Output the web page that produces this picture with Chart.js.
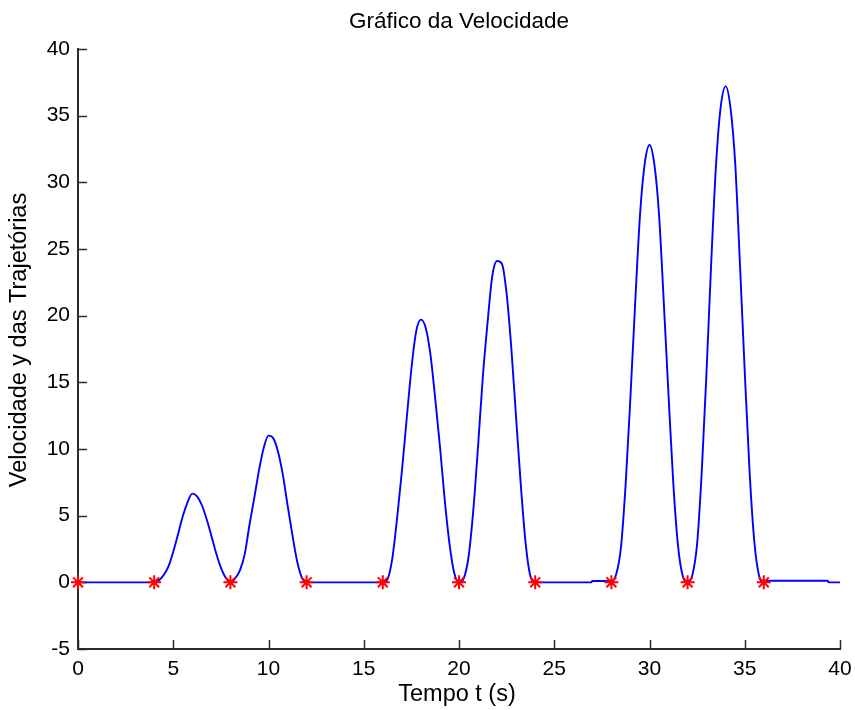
<!DOCTYPE html>
<html lang="pt">
<head>
<meta charset="utf-8">
<title>Gráfico da Velocidade</title>
<script src="https://cdn.jsdelivr.net/npm/chart.js@4"></script>
<style>
  html, body { margin: 0; padding: 0; background: #fff; }
  canvas { display: block; }
</style>
</head>
<body>
<canvas id="grafico" width="855" height="710"></canvas>
<script>
// tempo (s) e velocidade
const tempo = [
  0, 4,
  4.25, 4.5, 4.75, 5, 5.25, 5.5, 5.75, 6, 6.25, 6.5, 6.75, 7, 7.25, 7.5, 7.75, 8,
  8.25, 8.5, 8.75, 9, 9.25, 9.5, 9.75, 10, 10.25, 10.5, 10.75, 11, 11.25, 11.5, 11.75, 12,
  16,
  16.25, 16.5, 16.75, 17, 17.25, 17.5, 17.75, 18, 18.25, 18.5, 18.75, 19, 19.25, 19.5, 19.75, 20,
  20.25, 20.5, 20.75, 21, 21.25, 21.5, 21.75, 22, 22.25, 22.5, 22.75, 23, 23.25, 23.5, 23.75, 24,
  26.95, 27, 28,
  28.25, 28.5, 28.75, 29, 29.25, 29.5, 29.75, 30, 30.25, 30.5, 30.75, 31, 31.25, 31.5, 31.75, 32,
  32.25, 32.5, 32.75, 33, 33.25, 33.5, 33.75, 34, 34.25, 34.5, 34.75, 35, 35.25, 35.5, 35.75, 36,
  36.25, 39.35, 39.4, 40
];
const velocidade = [
  0, 0,
  0.15, 0.55, 1.2, 2.3, 3.6, 4.95, 6.0, 6.65, 6.45, 5.8, 4.75, 3.5, 2.2, 1.1, 0.35, 0,
  0.3, 0.9, 2.1, 4.3, 6.3, 8.4, 10.1, 11.0, 10.8, 9.8, 8.1, 5.8, 3.6, 1.6, 0.35, 0,
  0,
  0.25, 1.8, 4.8, 8.3, 12.2, 16.0, 18.8, 19.7, 19.1, 17.1, 13.8, 10.2, 6.2, 2.9, 0.7, 0,
  0.3, 1.9, 5.4, 10.2, 15.4, 19.5, 23.0, 24.1, 23.9, 21.65, 17.5, 12.3, 7.2, 2.9, 0.45, 0,
  0, 0.1, 0.1,
  0.6, 2.6, 7.4, 13.9, 21.0, 27.5, 31.4, 32.8, 31.4, 27.6, 21.0, 14.0, 7.4, 2.7, 0.45, 0,
  0.55, 2.9, 8.5, 16.0, 24.3, 31.5, 35.8, 37.2, 35.6, 31.4, 23.8, 15.8, 8.4, 3.1, 0.5, 0,
  0.12, 0.12, 0, 0
];

// instantes marcados com asterisco
const trocas = [0, 4, 8, 12, 16, 20, 24, 28, 32, 36];
const trocasVel = [0, 0, 0, 0, 0, 0, 0, 0, 0, 0];

const ticksX = [0, 5, 10, 15, 20, 25, 30, 35, 40];
const ticksY = [-5, 0, 5, 10, 15, 20, 25, 30, 35, 40];

const titulo = 'Gráfico da Velocidade';
const rotuloX = 'Tempo t (s)';
const rotuloY = 'Velocidade y das Trajetórias';

const fonte = "'Liberation Sans', Arial, sans-serif";
const corEixo = '#2b2b2b';

// ticks para dentro, estilo matlab
const ticksDentro = {
  id: 'ticksDentro',
  beforeDatasetsDraw(chart) {
    const { ctx, chartArea, scales: { x, y } } = chart;
    ctx.save();
    ctx.strokeStyle = corEixo;
    ctx.lineWidth = 1.5;
    ctx.beginPath();
    x.ticks.forEach(t => {
      const px = Math.round(x.getPixelForValue(t.value)) + 0.5;
      ctx.moveTo(px, chartArea.bottom);
      ctx.lineTo(px, chartArea.bottom - 9);
    });
    y.ticks.forEach(t => {
      const py = Math.round(y.getPixelForValue(t.value)) + 0.5;
      ctx.moveTo(chartArea.left, py);
      ctx.lineTo(chartArea.left + 9, py);
    });
    ctx.stroke();
    ctx.restore();
  }
};

// titulo e rotulos centrados no eixo, como no matlab
const textos = {
  id: 'textos',
  afterDraw(chart) {
    const { ctx, chartArea } = chart;
    const meio = (chartArea.left + chartArea.right) / 2;
    ctx.save();
    ctx.fillStyle = '#000';
    ctx.textAlign = 'center';
    ctx.textBaseline = 'middle';
    ctx.font = '22.5px ' + fonte;
    ctx.fillText(titulo, meio, 22);
    ctx.font = '23.5px ' + fonte;
    ctx.fillText(rotuloX, meio - 2, 695);
    ctx.translate(20, 340);
    ctx.rotate(-Math.PI / 2);
    ctx.fillText(rotuloY, 0, 0);
    ctx.restore();
  }
};

const ctx = document.getElementById('grafico').getContext('2d');

new Chart(ctx, {
  type: 'line',
  data: {
    datasets: [
      {
        label: 'trocas',
        data: trocas.map((t, i) => ({ x: t, y: trocasVel[i] })),
        showLine: false,
        pointStyle: 'star',
        pointRadius: 7,
        pointBorderColor: '#ff0000',
        pointBackgroundColor: '#ff0000',
        pointBorderWidth: 2,
        clip: false
      },
      {
        label: 'velocidade',
        data: tempo.map((t, i) => ({ x: t, y: velocidade[i] })),
        borderColor: '#0000ff',
        borderWidth: 1.9,
        pointRadius: 0,
        fill: false,
        cubicInterpolationMode: 'monotone'
      }
    ]
  },
  options: {
    responsive: false,
    animation: false,
    devicePixelRatio: 1,
    layout: { padding: { left: 0, right: 15, top: 49, bottom: 0 } },
    plugins: {
      legend: { display: false },
      tooltip: { enabled: false },
      title: { display: false }
    },
    scales: {
      x: {
        type: 'linear',
        min: 0,
        max: 40,
        afterBuildTicks: s => { s.ticks = ticksX.map(v => ({ value: v })); },
        afterFit: s => { s.height = 61; s.paddingLeft = 0; s.paddingRight = 0; },
        grid: { display: false, drawTicks: false },
        border: { display: true, color: corEixo, width: 2 },
        ticks: {
          color: '#000',
          padding: 8,
          maxRotation: 0,
          font: { family: fonte, size: 21 }
        }
      },
      y: {
        type: 'linear',
        min: -5,
        max: 40,
        afterBuildTicks: s => { s.ticks = ticksY.map(v => ({ value: v })); },
        afterFit: s => { s.width = 78; s.paddingTop = 0; s.paddingBottom = 0; },
        grid: { display: false, drawTicks: false },
        border: { display: true, color: corEixo, width: 2 },
        ticks: {
          color: '#000',
          padding: 8,
          font: { family: fonte, size: 21 }
        }
      }
    }
  },
  plugins: [ticksDentro, textos]
});
</script>
</body>
</html>
